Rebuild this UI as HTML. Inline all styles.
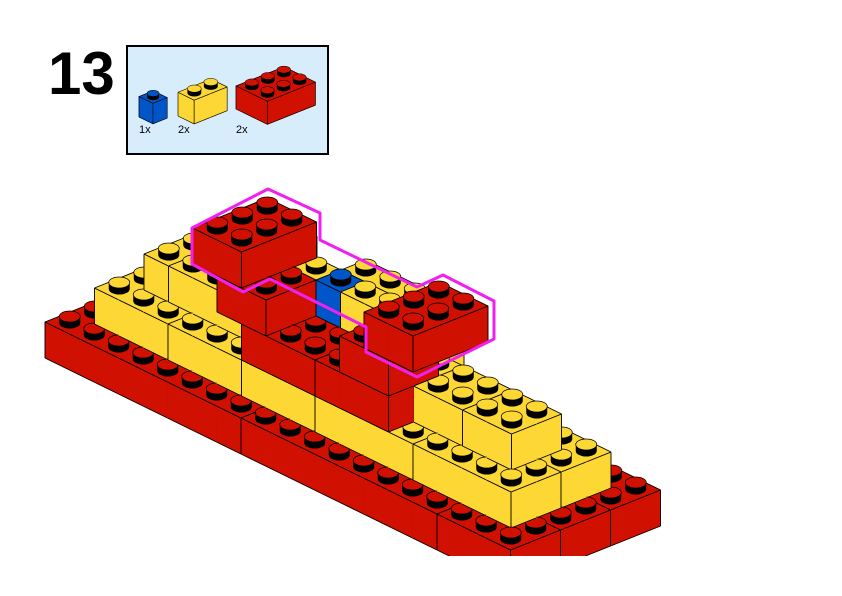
<!DOCTYPE html>
<html><head><meta charset="utf-8"><style>
html,body{margin:0;padding:0;background:#fff;}
#wrap{position:relative;width:842px;height:596px;overflow:hidden;background:#fff;font-family:"Liberation Sans",sans-serif;}
#num{position:absolute;left:48px;top:40px;font-size:60px;font-weight:bold;line-height:68px;color:#000;}
.lbl{position:absolute;top:124px;font-size:11px;color:#000;}
svg{position:absolute;left:0;top:0;}
</style></head><body>
<div id="wrap">
<svg id="s" width="842" height="596" viewBox="0 0 842 596">
<rect x="127" y="46" width="201" height="108" fill="#d8edfb" stroke="#000" stroke-width="2"/>
<g id="g"></g>
<rect x="0" y="556" width="842" height="40" fill="#fff"/>
<polygon points="192,228 268,189 320,213 320,240 417,287 443,275 494,301 494,339 417,377 366,352 366,327 270,279 243,292 192,264" fill="none" stroke="#f020f0" stroke-width="3" stroke-linejoin="round"/>
</svg>
<div id="num">13</div>
<div class="lbl" style="left:139px">1x</div>
<div class="lbl" style="left:178px">2x</div>
<div class="lbl" style="left:236px">2x</div>
</div>
<script>
var NS="http://www.w3.org/2000/svg";
var G=document.getElementById("g");
var COL={R:"#d01000",Y:"#fdd835",B:"#0055c8"};
function el(t,a){var e=document.createElementNS(NS,t);for(var k in a)e.setAttribute(k,a[k]);return e;}
function render(bricks,O,s){
  var U=[24.5*s,12*s],V=[25*s,-10*s],Z=36*s;
  function P(u,v,z){return [O[0]+U[0]*u+V[0]*v,O[1]+U[1]*u+V[1]*v-Z*z];}
  var map={},cells=[];
  bricks.forEach(function(b,i){
    for(var u=b[0];u<b[1];u++)for(var v=b[2];v<b[3];v++)for(var z=b[4];z<b[5];z++){
      map[u+","+v+","+z]=i;cells.push([u,v,z,i]);}
  });
  function id(u,v,z){var k=map[u+","+v+","+z];return k===undefined?-1:k;}
  cells.sort(function(a,b){var ka=a[0]-a[1]+a[2],kb=b[0]-b[1]+b[2];if(ka!==kb)return ka-kb;return a[2]-b[2];});
  var lw=0.9*Math.max(s,0.7);
  function poly(pts,c){var p=pts.map(function(q){return q[0].toFixed(1)+","+q[1].toFixed(1)}).join(" ");
    G.appendChild(el("polygon",{points:p,fill:c,stroke:c,"stroke-width":0.6}));}
  function line(a,b){G.appendChild(el("line",{x1:a[0],y1:a[1],x2:b[0],y2:b[1],stroke:"#000","stroke-width":lw}));}
  cells.forEach(function(c){
    var u=c[0],v=c[1],z=c[2],i=c[3],col=COL[bricks[i][6]];
    if(id(u,v-1,z)<0){
      var a=P(u,v,z),b=P(u+1,v,z),cc=P(u+1,v,z+1),d=P(u,v,z+1);
      poly([a,b,cc,d],col);
      if(id(u,v,z-1)!==i)line(a,b);
      if(id(u,v,z+1)!==i)line(d,cc);
      if(id(u-1,v,z)!==i)line(a,d);
      if(id(u+1,v,z)!==i)line(b,cc);
    }
    if(id(u+1,v,z)<0){
      var a=P(u+1,v,z),b=P(u+1,v+1,z),cc=P(u+1,v+1,z+1),d=P(u+1,v,z+1);
      poly([a,b,cc,d],col);
      if(id(u,v,z-1)!==i)line(a,b);
      if(id(u,v,z+1)!==i)line(d,cc);
      if(id(u,v-1,z)!==i)line(a,d);
      if(id(u,v+1,z)!==i)line(b,cc);
    }
    if(id(u,v,z+1)<0){
      var a=P(u,v,z+1),b=P(u+1,v,z+1),cc=P(u+1,v+1,z+1),d=P(u,v+1,z+1);
      poly([a,b,cc,d],col);
      if(id(u,v-1,z)!==i)line(a,b);
      if(id(u+1,v,z)!==i)line(b,cc);
      if(id(u,v+1,z)!==i)line(cc,d);
      if(id(u-1,v,z)!==i)line(d,a);
      var m=P(u+0.5,v+0.5,z+1),rx=10.5*s,ry=5.5*s,h=6.5*s;
      G.appendChild(el("path",{d:"M"+(m[0]-rx)+","+(m[1]-h)+" L"+(m[0]-rx)+","+m[1]+" A"+rx+","+ry+" 0 0 0 "+(m[0]+rx)+","+m[1]+" L"+(m[0]+rx)+","+(m[1]-h)+" Z",fill:"#000"}));
      G.appendChild(el("ellipse",{cx:m[0],cy:m[1]-h,rx:rx,ry:ry,fill:col,stroke:"#000","stroke-width":lw*0.8}));
    }
  });
}
render([[0,1,0,1,0,1,"B"]],[139,117],0.57);
render([[0,1,0,2,0,1,"Y"]],[178,116],0.66);
render([[0,2,0,3,0,1,"R"]],[236,109],0.64);
var M=[
 [0,8,0,2,0,1,"R"],[8,16,0,2,0,1,"R"],[16,19,0,2,0,1,"R"],
 [0,8,2,4,0,1,"R"],[8,16,2,4,0,1,"R"],[16,19,2,4,0,1,"R"],
 [0,8,4,6,0,1,"R"],[8,16,4,6,0,1,"R"],[16,19,4,6,0,1,"R"],
 [1,4,1,3,1,2,"Y"],[4,7,1,3,1,2,"Y"],[7,10,1,3,1,2,"Y"],[10,14,1,3,1,2,"Y"],[14,18,1,3,1,2,"Y"],
 [1,7,3,5,1,2,"Y"],[7,14,3,5,1,2,"Y"],[14,18,3,5,1,2,"Y"],
 [2,3,2,5,2,3,"Y"],[3,7,2,5,2,3,"Y"],[10,12,3,5,2,3,"Y"],[13,15,2,4,2,3,"Y"],[15,17,2,4,2,3,"Y"],[12,13,3,4,2,3,"Y"],
 [7,10,1,3,2,3,"R"],[10,13,1,3,2,3,"R"],[7,10,3,4,2,3,"Y"],
 [6,8,1,3,3,4,"R"],[11,13,1,3,3,4,"R"],
 [4,6,3,5,3,4,"Y"],[6,8,3,4,3,4,"Y"],[8,9,3,4,3,4,"B"],[9,11,3,4,3,4,"Y"],[8,11,4,5,3,4,"Y"],
 [5,7,1,4,4,5,"R"],[12,14,1,4,4,5,"R"]
];
render(M,[45,358],1);
</script>
</body></html>
